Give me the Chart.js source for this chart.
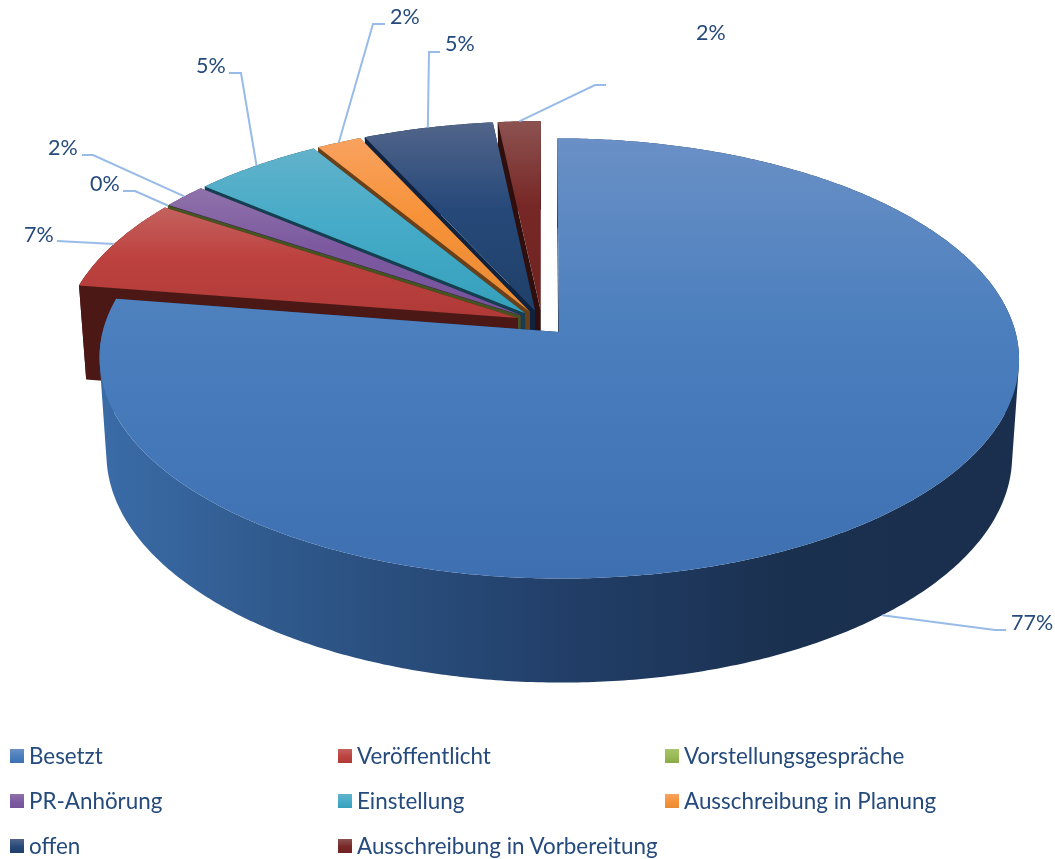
<!DOCTYPE html>
<html>
<head>
<meta charset="utf-8">
<title>Stellen</title>
<script src="https://cdn.jsdelivr.net/npm/chart.js@4"></script>
<style>
    html, body { margin: 0; padding: 0; background: #fff; }
    #wrap { position: relative; width: 1055px; height: 859px; overflow: hidden; }
    canvas { position: absolute; left: 0; top: 0; }
    .lg { position: absolute; font: 22.4px Lato, sans-serif; color: #254a7c; line-height: 26px; white-space: nowrap; }
    .sw { position: absolute; width: 14px; height: 14px; }
</style>
</head>
<body>
<div id="wrap"><canvas id="pie" width="1055" height="859"></canvas></div>
<script>
const categories = ['Besetzt', 'Veröffentlicht', 'Vorstellungsgespräche', 'PR-Anhörung', 'Einstellung', 'Ausschreibung in Planung', 'offen', 'Ausschreibung in Vorbereitung'];
const shares = [77.49, 6.81, 0, 1.8, 5.2, 1.8, 5.2, 1.7];

// colours per slice: top face light / mid / dark, then the wall
const faceLight = ['#6a90c6', '#c4625e', '#a9c46c', '#8f72aa', '#62b2ca', '#f8a260', '#52658a', '#8c5250'];
const faceMid = ['#4a7ebd', '#bd423f', '#98b954', '#7d5aa0', '#46abc8', '#f79239', '#27497a', '#772826'];
const faceDark = ['#3e70b1', '#b03a38', '#8aa848', '#75539a', '#35a0bb', '#e88c35', '#1f4068', '#6e2320'];
const wallColor = ['#1d3557', '#4b1816', '#45551f', '#3f2a55', '#143f50', '#6b4018', '#0f2340', '#2e0f0d'];

// leader elbows and label spots, same order as categories
const elbowX = [995, 57, 135, 93, 241, 373, 429, 595];
const elbowY = [630, 241, 191, 155, 73, 24, 52, 85];
const tailX = [1006, 57, 123, 82, 229, 385, 440, 606];
const labelX = [1011, 24, 90, 48, 196, 390, 445, 696];
const labelY = [623, 235, 184, 148, 66, 17, 44, 33];

// ground plane of the pie to the screen, with a little perspective
const CX = 542, K = 454, A = 175.9, B = 322.5, C = -0.12;

function project(u, v, z) {
    const d = 1 + C * v;
    let sx = CX + K * u / d;
    let sy = (A * v + B) / d;
    if (z) {
        sx = 558 + (sx - 558) * 0.985;
        sy = sy + 94 + (sy - 284) * 0.034;
    }
    return [sx, sy];
}

function groundPoint(arc, angle, t) {
    const mid = (arc.startAngle + arc.endAngle) / 2;
    const e = arc.options.offset / arc.outerRadius;
    return [e * Math.cos(mid) + t * Math.cos(angle), e * Math.sin(mid) + t * Math.sin(angle)];
}

function outerEdge(arc, z) {
    const pts = [];
    const steps = Math.max(1, Math.ceil((arc.endAngle - arc.startAngle) / 0.01));
    for (let i = 0; i <= steps; i++) {
        const a = arc.startAngle + (arc.endAngle - arc.startAngle) * i / steps;
        const g = groundPoint(arc, a, 1);
        pts.push(project(g[0], g[1], z));
    }
    return pts;
}

function addPoly(ctx, pts) {
    pts.forEach((p, i) => i ? ctx.lineTo(p[0], p[1]) : ctx.moveTo(p[0], p[1]));
    ctx.closePath();
}

function fillPoly(ctx, pts, fill) {
    ctx.beginPath();
    addPoly(ctx, pts);
    ctx.fillStyle = fill;
    ctx.fill();
}

// every quad of the wall wound the same way, so overlaps do not punch holes
function fillWall(ctx, top, bottom, fill) {
    ctx.beginPath();
    for (let k = 0; k < top.length - 1; k++) {
        const q = [top[k], top[k + 1], bottom[k + 1], bottom[k]];
        let area = 0;
        q.forEach((p, j) => {
            const n = q[(j + 1) % 4];
            area += p[0] * n[1] - n[0] * p[1];
        });
        addPoly(ctx, area < 0 ? q.reverse() : q);
    }
    ctx.fillStyle = fill;
    ctx.fill();
}

function drawSlice(ctx, arc, i) {
    const g0 = groundPoint(arc, arc.startAngle, 0);
    const top = outerEdge(arc, 0), bottom = outerEdge(arc, 1);
    const apexTop = project(g0[0], g0[1], 0), apexBottom = project(g0[0], g0[1], 1);

    // radial walls first
    fillPoly(ctx, [apexTop, top[0], bottom[0], apexBottom], wallColor[i]);
    fillPoly(ctx, [apexTop, top[top.length - 1], bottom[bottom.length - 1], apexBottom], wallColor[i]);

    // outer wall
    let wallFill = wallColor[i];
    if (i === 0) {
        wallFill = ctx.createLinearGradient(98, 0, 1018, 0);
        wallFill.addColorStop(0, '#3b6ca8');
        wallFill.addColorStop(0.22, '#2e5789');
        wallFill.addColorStop(0.5, '#223f69');
        wallFill.addColorStop(0.75, '#1a304f');
        wallFill.addColorStop(1, '#1a2f4d');
    }
    fillWall(ctx, top, bottom, wallFill);

    // top face
    const ys = top.map(p => p[1]).concat(apexTop[1]);
    const grad = ctx.createLinearGradient(0, Math.min(...ys), 0, Math.max(...ys));
    grad.addColorStop(0, faceLight[i]);
    grad.addColorStop(0.45, faceMid[i]);
    grad.addColorStop(1, faceDark[i]);
    fillPoly(ctx, [apexTop].concat(top), grad);
}

function drawLeader(ctx, arc, i) {
    const mid = (arc.startAngle + arc.endAngle) / 2;
    const g = groundPoint(arc, mid, 1);
    const s = project(g[0], g[1], i === 0 ? 1 : 0);
    ctx.beginPath();
    ctx.moveTo(s[0], s[1]);
    ctx.lineTo(elbowX[i], elbowY[i]);
    ctx.lineTo(tailX[i], elbowY[i]);
    ctx.strokeStyle = '#98bbe8';
    ctx.lineWidth = 2;
    ctx.stroke();

    ctx.fillStyle = '#254a7c';
    ctx.font = '21.5px Lato, sans-serif';
    ctx.textAlign = 'left';
    ctx.textBaseline = 'middle';
    ctx.fillText(Math.round(shares[i]) + '%', labelX[i], labelY[i]);
}

const pie3d = {
    id: 'pie3d',
    beforeDatasetsDraw(chart) {
        const ctx = chart.ctx;
        const arcs = chart.getDatasetMeta(0).data;
        ctx.save();
        for (let i = arcs.length - 1; i >= 0; i--) drawSlice(ctx, arcs[i], i);
        arcs.forEach((arc, i) => drawLeader(ctx, arc, i));
        ctx.restore();
        return false;
    }
};

new Chart(document.getElementById('pie'), {
    type: 'pie',
    data: {
        labels: categories,
        datasets: [{ data: shares, backgroundColor: faceMid, offset: 24, borderWidth: 0 }]
    },
    options: {
        responsive: false,
        animation: false,
        plugins: { legend: { display: false }, tooltip: { enabled: false } }
    },
    plugins: [pie3d]
});

// legend, three columns
const legendCols = [10, 338, 665];
const legendRows = [749, 794, 839];
const wrap = document.getElementById('wrap');
categories.forEach((name, i) => {
    const x = legendCols[i % 3], y = legendRows[Math.floor(i / 3)];
    const sw = document.createElement('div');
    sw.className = 'sw';
    sw.style.left = x + 'px';
    sw.style.top = y + 'px';
    sw.style.background = `linear-gradient(${faceLight[i]}, ${faceMid[i]} 55%, ${faceDark[i]})`;
    wrap.appendChild(sw);
    const lg = document.createElement('div');
    lg.className = 'lg';
    lg.style.left = (x + 19) + 'px';
    lg.style.top = (y - 6) + 'px';
    lg.textContent = name;
    wrap.appendChild(lg);
});
</script>
</body>
</html>
